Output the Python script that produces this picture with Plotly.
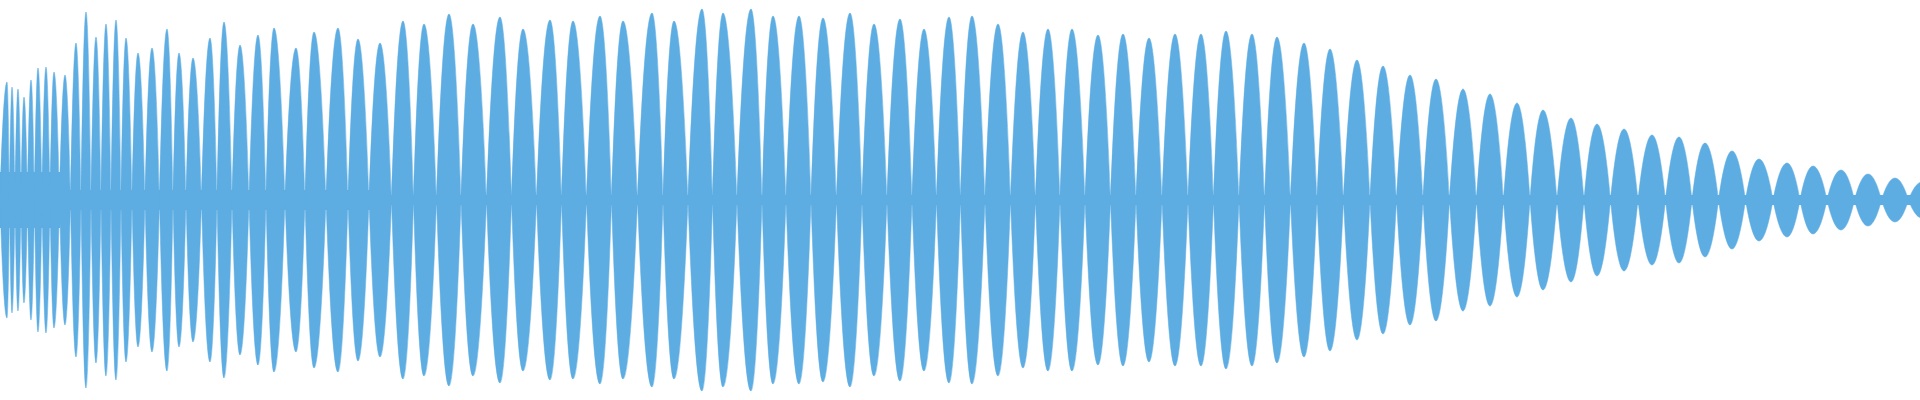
import plotly.graph_objects as go

peak_x = [7,12,18,24,31,38,46,54,65,76,86,96,106,116,126,138,152,167,179,193,
          210,224,240,258,274,296,314,338,358,380,403,424,449,473,500,523,550,573,600,623,
          652,674,702,723,751,773,799,823,850,874,900,924,949,972,998,1023,1048,1072,1098,1123,
          1149,1175,1201,1226,1252,1277,1304,1330,1357,1383,1410,1436,1463,1490,1517,1543,1571,1597,1624,1652,
          1679,1705,1732,1759,1787,1813,1841,1868,1895,1922]
peak_top = [82,87,89,97,80,68,67,72,75,43,12,37,24,20,38,53,48,29,53,58,
            38,22,45,35,28,48,32,28,39,43,21,24,14,24,17,29,20,21,16,21,
            13,21,9,13,9,16,16,18,13,24,19,29,17,16,24,32,29,29,35,34,
            38,34,34,31,34,37,43,49,60,66,75,79,89,94,103,110,118,124,129,135,
            137,143,151,159,163,166,170,174,178,182]
band_x = [0, 60, 61, 380, 381, 1935]
band_h = [28, 28, 10, 10, 5, 5]
CENTER = 200

amp = [CENTER - t for t in peak_top]
bounds = [0] + [(peak_x[i] + peak_x[i+1]) / 2 for i in range(len(peak_x) - 1)] + [1935]

def seg(x0, x1, y0, y1, rising):
    # cubic Bezier quarter-lobe, control handles as fractions of the span
    dx = x1 - x0
    if rising:
        c1 = (x0 + 0.25 * dx, y0 + 0.5 * (y1 - y0))
        c2 = (x0 + 0.6 * dx, y1)
    else:
        c1 = (x0 + 0.4 * dx, y0)
        c2 = (x0 + 0.75 * dx, y0 + 0.5 * (y1 - y0))
    return f" C {c1[0]:.2f},{c1[1]:.2f} {c2[0]:.2f},{c2[1]:.2f} {x1:.2f},{y1:.2f}"

path = ""
for i in range(len(peak_x)):
    l, r, p, a = bounds[i], bounds[i+1], peak_x[i], amp[i]
    path += f" M {l:.2f},0"
    path += seg(l, p, 0, a, True) + seg(p, r, a, 0, False)
    path += seg(r, p, 0, -a, True) + seg(p, l, -a, 0, False) + " Z"

color = "#5DADE2"
fig = go.Figure()
fig.add_trace(go.Scatter(x=band_x + band_x[::-1], y=band_h + [-v for v in band_h[::-1]],
                         mode="lines", fill="toself", fillcolor=color,
                         line=dict(color=color, width=0), hoverinfo="skip"))
fig.add_shape(type="path", path=path.strip(), xref="x", yref="y",
              fillcolor=color, line=dict(color=color, width=0.5), layer="above")
fig.update_layout(width=1920, height=400, margin=dict(l=0, r=0, t=0, b=0),
                  paper_bgcolor="white", plot_bgcolor="white", showlegend=False,
                  xaxis=dict(range=[0, 1920], visible=False),
                  yaxis=dict(range=[-200, 200], visible=False))
fig.write_html("out.html", config={"displayModeBar": False},
               post_script="document.body.style.margin='0';document.body.style.overflow='hidden';")
